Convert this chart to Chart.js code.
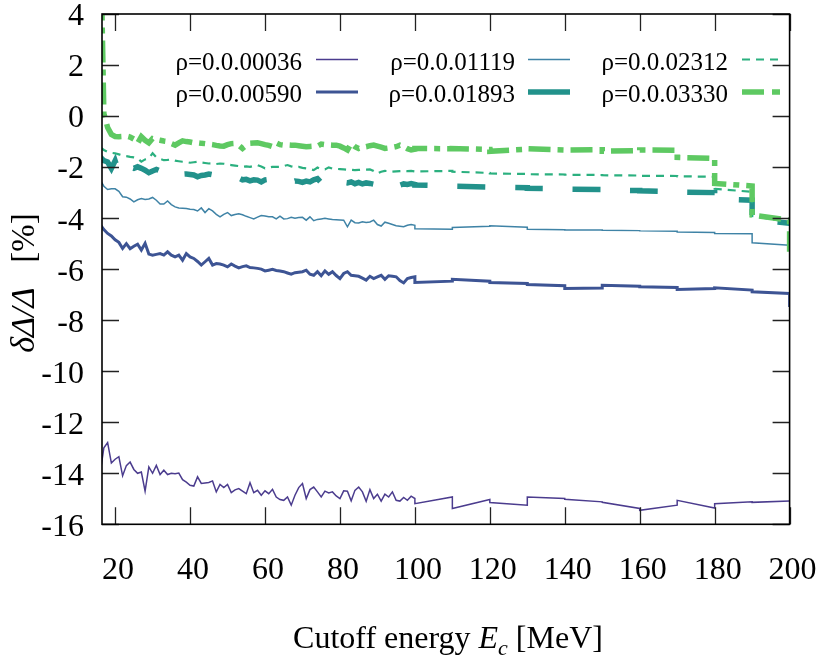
<!DOCTYPE html>
<html><head><meta charset="utf-8">
<script src="https://cdn.jsdelivr.net/npm/chart.js@4.4.0/dist/chart.umd.min.js"></script>
<style>html,body{margin:0;padding:0;background:#fff;}</style>
</head><body>
<canvas id="c" width="822" height="658"></canvas>
<script>
// ---------------- data ----------------
const xFine = [16,17,18,19,20,21,22,23,24,25,26,27,28,29,30,31,32,33,34,35,36,37,38,39,40,41,42,43,44,45,
  46,47,48,49,50,51,52,53,54,55,56,57,58,59,60,61,62,63,64,65,66,67,68,69,70,71,72,73,74,75,
  76,77,78,79,80,81,82,83,84,85,86,87,88,89,90,91,92,93,94,95,96,97,98,99];
const xCoarse = [100,100,110,110,120,120,130,130,140,140,150,150,160,160,170,170,180,180,190,190,200,200];
const xTickValues = [20,40,60,80,100,120,140,160,180,200];
const yTickValues = [-16,-14,-12,-10,-8,-6,-4,-2,0,2,4];
const seriesLabels = ['ρ=0.0.00036','ρ=0.0.00590','ρ=0.0.01119','ρ=0.0.01893','ρ=0.0.02312','ρ=0.0.03330'];

const yFine_00036 = [-14.0,-13.0,-12.8,-13.6,-13.45,-13.35,-14.1,-13.7,-13.56,-13.85,
  -14.0,-13.95,-14.7,-13.75,-14.0,-13.69,-14.05,-13.88,-14.05,-14.0,
  -14.02,-13.99,-14.25,-14.35,-14.47,-14.5,-14.14,-14.4,-14.38,-14.36,
  -14.3,-14.73,-14.44,-14.56,-14.44,-14.76,-14.65,-14.6,-14.7,-14.8,
  -14.37,-14.76,-14.67,-14.86,-14.69,-14.8,-14.63,-14.93,-15.03,-15.06,
  -14.93,-15.25,-14.86,-14.56,-14.4,-14.99,-14.64,-14.54,-14.73,-14.93,
  -14.7,-14.77,-14.73,-14.89,-14.99,-14.69,-14.7,-15.08,-14.67,-14.54,
  -14.73,-15.1,-14.64,-14.99,-14.82,-15.09,-14.82,-14.93,-14.73,-15.06,
  -15.09,-14.95,-15.06,-14.9];
const yCoarse_00036 = [-14.99,-15.19,-14.93,-15.38,-15.03,-15.15,-15.25,-14.93,-14.99,-15.02,-15.12,-15.14,-15.38,-15.45,-15.25,-15.06,-15.36,-15.19,-15.12,-15.14,-15.09,-15.09];

const yFine_00590 = [-4.25,-4.45,-4.6,-4.7,-4.85,-4.95,-5.19,-5.0,-5.2,-5.1,
  -5.02,-5.25,-4.99,-5.41,-5.45,-5.42,-5.39,-5.45,-5.32,-5.45,
  -5.52,-5.45,-5.65,-5.39,-5.52,-5.58,-5.7,-5.84,-5.71,-5.58,
  -5.84,-5.78,-5.8,-5.84,-5.91,-5.8,-5.88,-5.95,-5.9,-5.87,
  -5.94,-5.95,-5.97,-6.0,-6.07,-6.04,-6.01,-6.05,-6.07,-6.1,
  -6.15,-6.2,-6.14,-6.12,-6.1,-6.04,-6.2,-6.24,-6.1,-6.26,
  -6.07,-6.2,-6.1,-6.25,-6.37,-6.17,-6.1,-6.24,-6.26,-6.28,
  -6.35,-6.43,-6.28,-6.37,-6.3,-6.24,-6.4,-6.26,-6.28,-6.3,
  -6.45,-6.54,-6.37,-6.33];
const yCoarse_00590 = [-6.30,-6.52,-6.47,-6.40,-6.47,-6.52,-6.56,-6.60,-6.65,-6.76,-6.74,-6.63,-6.67,-6.69,-6.72,-6.80,-6.76,-6.73,-6.82,-6.89,-6.95,-7.48];

const yFine_01119 = [-2.5,-2.75,-2.88,-2.85,-2.85,-2.95,-3.16,-3.18,-3.25,-3.36,
  -3.28,-3.23,-3.27,-3.25,-3.19,-3.3,-3.45,-3.45,-3.33,-3.47,
  -3.56,-3.6,-3.61,-3.62,-3.65,-3.66,-3.72,-3.6,-3.78,-3.63,
  -3.72,-3.85,-3.95,-3.85,-3.78,-3.9,-3.86,-3.83,-3.87,-3.93,
  -3.98,-4.03,-3.96,-3.9,-3.92,-3.95,-3.95,-4.03,-3.92,-4.03,
  -4.02,-3.97,-4.0,-3.98,-3.97,-4.08,-3.95,-4.1,-4.05,-4.03,
  -4.01,-4.03,-4.05,-4.06,-4.07,-4.08,-4.34,-4.08,-4.18,-4.19,
  -4.14,-4.17,-4.15,-4.08,-4.25,-4.31,-4.16,-4.2,-4.25,-4.3,
  -4.32,-4.34,-4.28,-4.25];
const yCoarse_01119 = [-4.28,-4.42,-4.44,-4.37,-4.32,-4.30,-4.36,-4.44,-4.46,-4.47,-4.47,-4.48,-4.49,-4.50,-4.51,-4.54,-4.56,-4.60,-4.61,-4.97,-5.06,-5.06];

const yFine_01893 = [-1.6,-1.75,-1.8,-2.05,-1.75,-2.2,-1.95,-2.1,-2.0,-2.05,
  -1.99,-2.05,-2.12,-2.22,-2.15,-2.09,-2.15,-1.99,-2.1,-2.2,
  -2.25,-2.3,-2.28,-2.27,-2.29,-2.31,-2.38,-2.33,-2.31,-2.27,
  -2.3,-2.35,-2.4,-2.42,-2.45,-2.41,-2.47,-2.43,-2.5,-2.48,
  -2.54,-2.5,-2.51,-2.58,-2.5,-2.48,-2.54,-2.6,-2.55,-2.58,
  -2.52,-2.6,-2.55,-2.56,-2.6,-2.55,-2.58,-2.5,-2.45,-2.61,
  -2.51,-2.58,-2.61,-2.48,-2.55,-2.6,-2.62,-2.58,-2.65,-2.6,
  -2.66,-2.62,-2.64,-2.67,-2.68,-2.7,-2.71,-2.75,-2.77,-2.61,
  -2.71,-2.66,-2.68,-2.65];
const yCoarse_01893 = [-2.68,-2.70,-2.74,-2.75,-2.78,-2.78,-2.81,-2.83,-2.85,-2.86,-2.88,-2.90,-2.92,-2.93,-2.96,-2.98,-3.00,-3.25,-3.30,-4.05,-4.20,-4.30];

const yFine_02312 = [-1.22,-1.33,-1.4,-1.44,-1.46,-1.5,-1.55,-1.57,-1.6,-1.62,
  -1.65,-1.79,-1.7,-1.65,-1.46,-1.62,-1.68,-1.73,-1.72,-1.7,
  -1.75,-1.77,-1.79,-1.8,-1.83,-1.81,-1.79,-1.82,-1.84,-1.86,
  -1.85,-1.88,-1.86,-1.87,-1.9,-1.92,-1.94,-1.96,-1.99,-1.97,
  -1.99,-1.95,-1.92,-1.98,-2.05,-2.02,-1.99,-1.99,-1.99,-1.96,
  -1.92,-1.97,-2.01,-1.99,-2.03,-2.05,-2.08,-2.12,-2.02,-2.08,
  -2.09,-2.01,-2.06,-2.07,-2.08,-2.09,-2.1,-2.11,-2.12,-2.11,
  -2.1,-2.1,-2.09,-2.15,-2.25,-2.18,-2.15,-2.16,-2.18,-2.17,
  -2.16,-2.15,-2.16,-2.15];
const yCoarse_02312 = [-2.17,-2.17,-2.15,-2.18,-2.23,-2.25,-2.27,-2.28,-2.29,-2.30,-2.31,-2.32,-2.33,-2.34,-2.35,-2.36,-2.38,-2.85,-2.97,-3.92,-4.15,-4.20];

const yFine_03330 = [7.9,0.1,-0.45,-0.72,-0.8,-0.81,-0.8,-0.78,-0.82,-0.9,
  -1.07,-0.81,-0.95,-1.05,-0.88,-0.92,-0.95,-0.98,-1.0,-1.08,
  -1.14,-1.05,-0.97,-1.0,-1.02,-1.05,-1.05,-1.07,-1.08,-1.1,
  -1.12,-1.15,-1.17,-1.18,-1.12,-1.08,-1.07,-1.15,-1.27,-1.15,
  -1.07,-1.06,-1.05,-1.08,-1.12,-1.15,-1.2,-1.05,-1.12,-1.14,
  -1.13,-1.14,-1.14,-1.16,-1.18,-1.2,-1.19,-1.18,-1.18,-1.1,
  -1.12,-1.13,-1.14,-1.14,-1.18,-1.25,-1.33,-1.07,-1.2,-1.27,
  -1.22,-1.2,-1.16,-1.14,-1.18,-1.22,-1.27,-1.25,-1.23,-1.2,
  -1.14,-1.2,-1.28,-1.33];
const yCoarse_03330 = [-1.30,-1.27,-1.28,-1.27,-1.31,-1.38,-1.30,-1.28,-1.33,-1.33,-1.32,-1.38,-1.35,-1.33,-1.34,-1.62,-1.66,-2.64,-2.74,-3.88,-4.08,-5.32];

// ---------------- build ----------------
const xAll = xFine.concat(xCoarse);
function pts(fine, coarse) {
  const ys = fine.concat(coarse);
  return xAll.map((x, i) => ({x: x, y: ys[i]}));
}
const styles = [
  {color:'#4b3c8e', width:1.5, dash:[], legendDash:[]},
  {color:'#3d5494', width:3, dash:[], legendDash:[]},
  {color:'#3f83a6', width:1.5, dash:[], legendDash:[]},
  {color:'#22928b', width:5.5, dash:[28,30], legendDash:[]},
  {color:'#2bb07f', width:2.2, dash:[8,6], legendDash:[8,6]},
  {color:'#5ec962', width:5.5, dash:[22,7,6,7], legendDash:[22,8,8,8]}
];
const seriesData = [
  pts(yFine_00036, yCoarse_00036),
  pts(yFine_00590, yCoarse_00590),
  pts(yFine_01119, yCoarse_01119),
  pts(yFine_01893, yCoarse_01893),
  pts(yFine_02312, yCoarse_02312),
  pts(yFine_03330, yCoarse_03330)
];
const datasets = seriesData.map((d, i) => ({
  label: seriesLabels[i],
  data: d,
  borderColor: styles[i].color,
  borderWidth: styles[i].width,
  borderDash: styles[i].dash,
  pointRadius: 0,
  tension: 0,
  fill: false,
  order: 6 - i
}));

const SERIF = "'Liberation Serif', 'Times New Roman', serif";

const decor = {
  id: 'decor',
  afterDraw(chart) {
    const ctx = chart.ctx;
    const a = chart.chartArea;
    const xs = chart.scales.x, ys = chart.scales.y;
    ctx.save();
    // inward ticks on all four sides
    ctx.strokeStyle = '#222';
    ctx.lineWidth = 1.3;
    const TL = 17;
    ctx.beginPath();
    xTickValues.forEach(v => {
      const p = Math.round(xs.getPixelForValue(v)) + 0.5;
      ctx.moveTo(p, a.bottom); ctx.lineTo(p, a.bottom - TL);
      ctx.moveTo(p, a.top); ctx.lineTo(p, a.top + TL);
    });
    yTickValues.forEach(v => {
      const p = Math.round(ys.getPixelForValue(v)) + 0.5;
      ctx.moveTo(a.left, p); ctx.lineTo(a.left + TL, p);
      ctx.moveTo(a.right, p); ctx.lineTo(a.right - TL, p);
    });
    ctx.stroke();
    // frame
    ctx.strokeStyle = '#000';
    ctx.lineWidth = 1.6;
    ctx.strokeRect(a.left, a.top, a.right - a.left, a.bottom - a.top);

    // legend (text then sample line, gnuplot style)
    const textRight = [302, 515, 728];
    const sampleX = [[316, 358], [528, 570], [742, 784]];
    const rowBase = [70, 102];
    const rowLine = [59.5, 92];
    ctx.font = '25px ' + SERIF;
    ctx.fillStyle = '#000';
    ctx.textAlign = 'right';
    ctx.textBaseline = 'alphabetic';
    chart.data.datasets.forEach((ds, i) => {
      const col = Math.floor(i / 2), row = i % 2;
      ctx.fillText(ds.label, textRight[col], rowBase[row]);
      ctx.save();
      ctx.strokeStyle = ds.borderColor;
      ctx.lineWidth = ds.borderWidth;
      ctx.setLineDash(styles[i].legendDash);
      ctx.beginPath();
      ctx.moveTo(sampleX[col][0], rowLine[row]);
      ctx.lineTo(sampleX[col][1], rowLine[row]);
      ctx.stroke();
      ctx.restore();
    });

    // x axis title: Cutoff energy E_c [MeV]
    const xParts = [
      {t:'Cutoff energy ', f:'32px ' + SERIF, dy:0},
      {t:'E', f:'italic 32px ' + SERIF, dy:0},
      {t:'c', f:'italic 22px ' + SERIF, dy:7},
      {t:' [MeV]', f:'32px ' + SERIF, dy:0}
    ];
    drawParts(ctx, xParts, 448, 648);

    // y axis title: δΔ/Δ  [%]
    ctx.save();
    ctx.translate(34, 283);
    ctx.rotate(-Math.PI / 2);
    const yParts = [
      {t:'δΔ/Δ', f:'italic 34px ' + SERIF, dy:0},
      {t:'   [%]', f:'33px ' + SERIF, dy:0}
    ];
    drawParts(ctx, yParts, 0, 0);
    ctx.restore();
    ctx.restore();
  }
};
function drawParts(ctx, parts, cx, baseY) {
  let total = 0;
  parts.forEach(p => { ctx.font = p.f; p.w = ctx.measureText(p.t).width; total += p.w; });
  let x = cx - total / 2;
  ctx.textAlign = 'left';
  ctx.textBaseline = 'alphabetic';
  ctx.fillStyle = '#000';
  parts.forEach(p => { ctx.font = p.f; ctx.fillText(p.t, x, baseY + p.dy); x += p.w; });
}

new Chart(document.getElementById('c'), {
  type: 'line',
  data: { datasets: datasets },
  options: {
    responsive: false,
    animation: false,
    devicePixelRatio: 1,
    layout: { padding: { left: 0, right: 32.4, top: 14, bottom: 0 } },
    plugins: { legend: { display: false }, tooltip: { enabled: false } },
    scales: {
      x: {
        type: 'linear', min: 16.5, max: 200,
        afterBuildTicks: s => { s.ticks = xTickValues.map(v => ({value: v})); },
        afterFit: s => { s.height = 133.7; s.paddingLeft = 0; s.paddingRight = 0; },
        grid: { display: false, drawTicks: false },
        border: { display: false },
        ticks: { font: { family: SERIF, size: 32 }, color: '#000', padding: 27, labelOffset: 3, maxRotation: 0, autoSkip: false }
      },
      y: {
        type: 'linear', min: -16, max: 4,
        afterBuildTicks: s => { s.ticks = yTickValues.map(v => ({value: v})); },
        afterFit: s => { s.width = 102; s.paddingTop = 0; s.paddingBottom = 0; },
        grid: { display: false, drawTicks: false },
        border: { display: false },
        ticks: { font: { family: SERIF, size: 32 }, color: '#000', padding: 18, labelOffset: 3, autoSkip: false }
      }
    }
  },
  plugins: [decor]
});
</script>
</body></html>
